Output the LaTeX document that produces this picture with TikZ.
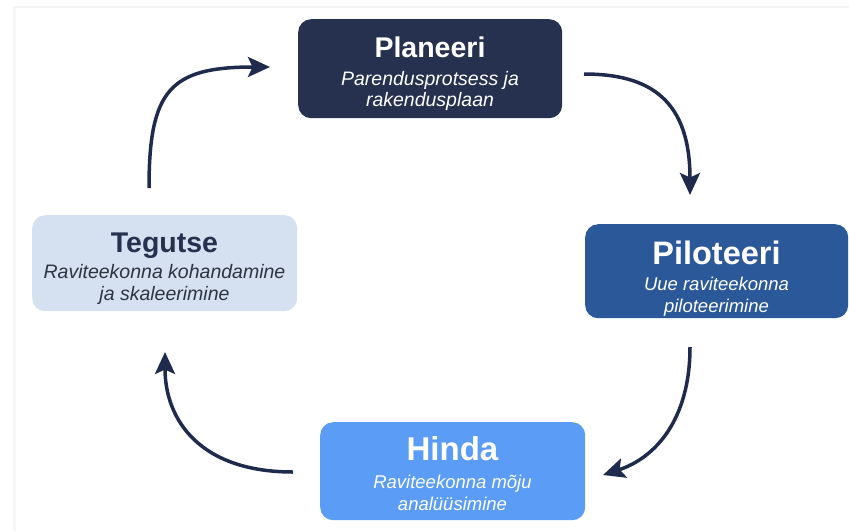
\documentclass[tikz,border=0pt]{standalone}
\usepackage{fontspec}
\setmainfont{Liberation Sans}
\usetikzlibrary{arrows.meta}

\definecolor{navy}{HTML}{26304F}
\definecolor{pilotblue}{HTML}{2B5898}
\definecolor{paleblue}{HTML}{D5E1F0}
\definecolor{skyblue}{HTML}{5B9CF6}
\definecolor{arrowcol}{HTML}{1F2B4D}
\definecolor{subgray}{HTML}{2E3440}

\tikzset{
  stagebox/.style={rectangle, rounded corners=13pt, draw=none, inner sep=0pt,
    anchor=north west},
  titletext/.style={anchor=base, inner sep=0pt, font=\bfseries\fontsize{#1}{#1}\selectfont},
  subtext/.style={anchor=base, inner sep=0pt, font=\itshape\fontsize{#1}{#1}\selectfont},
  cyclearrow/.style={draw=arrowcol, line width=3.5pt,
    -{Stealth[length=22pt, width=20pt, inset=4.5pt]}},
}

\begin{document}
\begin{tikzpicture}[x=1pt, y=-1pt]
  \useasboundingbox (0,0) rectangle (849,531);
  % faint page edge
  \fill[black!4] (13,6) rectangle (16,531);
  \fill[black!4] (13,6) rectangle (849,8);

  % stage boxes
  \node[stagebox, fill=navy, minimum width=264pt, minimum height=99pt] (plan) at (298,19) {};
  \node[stagebox, fill=pilotblue, minimum width=263pt, minimum height=94pt] (pilot) at (585,224) {};
  \node[stagebox, fill=paleblue, minimum width=265pt, minimum height=96pt] (act) at (32,215) {};
  \node[stagebox, fill=skyblue, minimum width=265pt, minimum height=98pt] (eval) at (320,422) {};

  % Planeeri
  \node[titletext=28.5, text=white] (plan-t) at (430,57) {Planeeri};
  \node[subtext=19.5, text=white] (plan-s1) at (430,85) {Parendusprotsess ja};
  \node[subtext=19.5, text=white] (plan-s2) at (430,106.5) {rakendusplaan};

  % Piloteeri
  \node[titletext=32.5, text=white] (pilot-t) at (716.5,264) {Piloteeri};
  \node[subtext=18.5, text=white] (pilot-s1) at (716.5,290) {Uue raviteekonna};
  \node[subtext=18.5, text=white] (pilot-s2) at (716.5,312.5) {piloteerimine};

  % Tegutse
  \node[titletext=28.5, text=navy] (act-t) at (164.5,252.5) {Tegutse};
  \node[subtext=19.5, text=subgray] (act-s1) at (164.5,278.5) {Raviteekonna kohandamine};
  \node[subtext=19.5, text=subgray] (act-s2) at (164.5,300.5) {ja skaleerimine};

  % Hinda
  \node[titletext=33, text=white] (eval-t) at (452.5,460) {Hinda};
  \node[subtext=18.5, text=white] (eval-s1) at (452.5,488) {Raviteekonna mõju};
  \node[subtext=18.5, text=white] (eval-s2) at (452.5,510) {analüüsimine};

  % arrow end points
  \coordinate (a1s) at (584,74);  \coordinate (a1e) at (690,195);
  \coordinate (a2s) at (690,347); \coordinate (a2e) at (603,475);
  \coordinate (a3s) at (293,472); \coordinate (a3e) at (165,352);
  \coordinate (a4s) at (149,188); \coordinate (a4e) at (270,67);

  % cycle arrows
  \draw[cyclearrow] (a1s) .. controls (650,74) and (690,100) .. (a1e);
  \draw[cyclearrow] (a2s) .. controls (690,420) and (655,458) .. (a2e);
  \draw[cyclearrow] (a3s) .. controls (200,472) and (165,420) .. (a3e);
  \draw[cyclearrow] (a4s) .. controls (149,90) and (170,67) .. (a4e);
\end{tikzpicture}
\end{document}
